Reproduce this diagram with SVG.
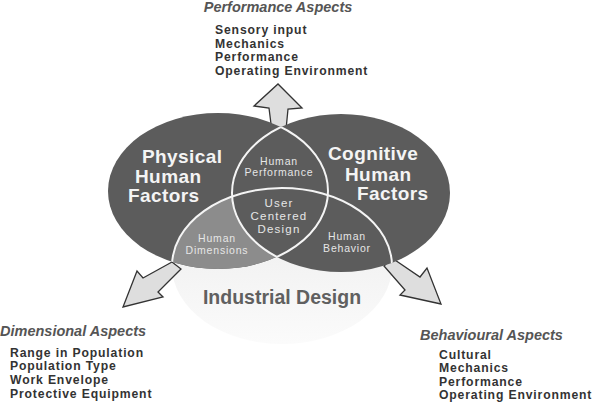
<svg xmlns="http://www.w3.org/2000/svg" width="594" height="402" viewBox="0 0 594 402">
<style>
text{font-family:"Liberation Sans",Arial,sans-serif}
.hd{font-weight:bold;font-style:italic;font-size:14.5px;fill:#555}
.li{font-weight:bold;font-size:12.2px;fill:#333;letter-spacing:0.85px}
.big{font-weight:bold;font-size:19px;fill:#f4f4f4;letter-spacing:0.4px}
.sm{font-size:10.5px;fill:#e6e6e6;letter-spacing:0.8px;text-anchor:middle}
.md{font-size:11.5px;fill:#e6e6e6;letter-spacing:1.2px;text-anchor:middle}
.arrow{fill:#dedede;stroke:#333;stroke-width:1.3;stroke-linejoin:miter}
.dark{fill:#5c5c5c}
.edge{fill:none;stroke:#f4f4f4;stroke-width:2}
</style>
<defs>
<linearGradient id="gb" x1="0" y1="0" x2="0" y2="1">
<stop offset="0" stop-color="#ebebeb"/>
<stop offset="1" stop-color="#fbfbfb"/>
</linearGradient>
<clipPath id="cL"><ellipse cx="218" cy="191" rx="110" ry="78"/></clipPath>
<clipPath id="cR"><ellipse cx="341" cy="193" rx="109" ry="79"/></clipPath>
<clipPath id="cLR"><ellipse cx="218" cy="191" rx="110" ry="78"/><ellipse cx="341" cy="193" rx="109" ry="79"/></clipPath>
</defs>
<rect width="594" height="402" fill="#ffffff"/>

<g id="industrial-design">
<ellipse cx="282" cy="266" rx="110" ry="78" fill="url(#gb)"/>
</g>

<g id="connectors">
<polygon class="arrow" points="273,140 269,108 254,106 278,84 302,108 288,109 285,140"/>
<polygon class="arrow" points="172,262 143,278 137,271 123,307 163,297 158,292 181,269"/>
<polygon class="arrow" points="392,258 420,277 427,268 441,304 400,295 405,290 384,266"/>
</g>

<g id="physical-human-factors">
<ellipse class="dark" cx="218" cy="191" rx="110" ry="78"/>
</g>
<g id="human-dimensions-region">
<ellipse cx="282" cy="266" rx="110" ry="78" fill="#8c8c8c" clip-path="url(#cL)"/>
</g>
<g id="cognitive-human-factors">
<ellipse class="dark" cx="341" cy="193" rx="109" ry="79"/>
</g>
<g id="outlines">
<ellipse class="edge" cx="218" cy="191" rx="110" ry="78" clip-path="url(#cR)"/>
<ellipse class="edge" cx="341" cy="193" rx="109" ry="79" clip-path="url(#cL)"/>
<ellipse class="edge" cx="282" cy="266" rx="110" ry="78" clip-path="url(#cLR)"/>
</g>

<g id="physical-label">
<text class="big" x="142" y="163">Physical</text>
<text class="big" x="135" y="183">Human</text>
<text class="big" x="128" y="202">Factors</text>
</g>
<g id="cognitive-label">
<text class="big" x="328" y="160">Cognitive</text>
<text class="big" x="345" y="181">Human</text>
<text class="big" x="357" y="200">Factors</text>
</g>
<g id="human-performance">
<text class="sm" x="279" y="165">Human</text>
<text class="sm" x="279" y="176">Performance</text>
</g>
<g id="user-centered-design">
<text class="md" x="279" y="207">User</text>
<text class="md" x="279" y="220">Centered</text>
<text class="md" x="279" y="233">Design</text>
</g>
<g id="human-dimensions">
<text class="sm" x="217" y="242">Human</text>
<text class="sm" x="217" y="254">Dimensions</text>
</g>
<g id="human-behavior">
<text class="sm" x="347" y="240">Human</text>
<text class="sm" x="347" y="252">Behavior</text>
</g>
<g id="industrial-label">
<text x="282" y="304" text-anchor="middle" font-weight="bold" font-size="19.5" fill="#606060">Industrial Design</text>
</g>

<g id="performance-aspects">
<text class="hd" x="278" y="12" text-anchor="middle">Performance Aspects</text>
<text class="li" x="215" y="34">Sensory input</text>
<text class="li" x="215" y="47.7">Mechanics</text>
<text class="li" x="215" y="61.4">Performance</text>
<text class="li" x="215" y="75.1">Operating Environment</text>
</g>
<g id="dimensional-aspects">
<text class="hd" x="0" y="336">Dimensional Aspects</text>
<text class="li" x="10" y="356.5">Range in Population</text>
<text class="li" x="10" y="370.2">Population Type</text>
<text class="li" x="10" y="383.9">Work Envelope</text>
<text class="li" x="10" y="397.6">Protective Equipment</text>
</g>
<g id="behavioural-aspects">
<text class="hd" x="420" y="340">Behavioural Aspects</text>
<text class="li" x="439" y="358.5">Cultural</text>
<text class="li" x="439" y="372.2">Mechanics</text>
<text class="li" x="439" y="385.9">Performance</text>
<text class="li" x="439" y="399.2">Operating Environment</text>
</g>
</svg>
